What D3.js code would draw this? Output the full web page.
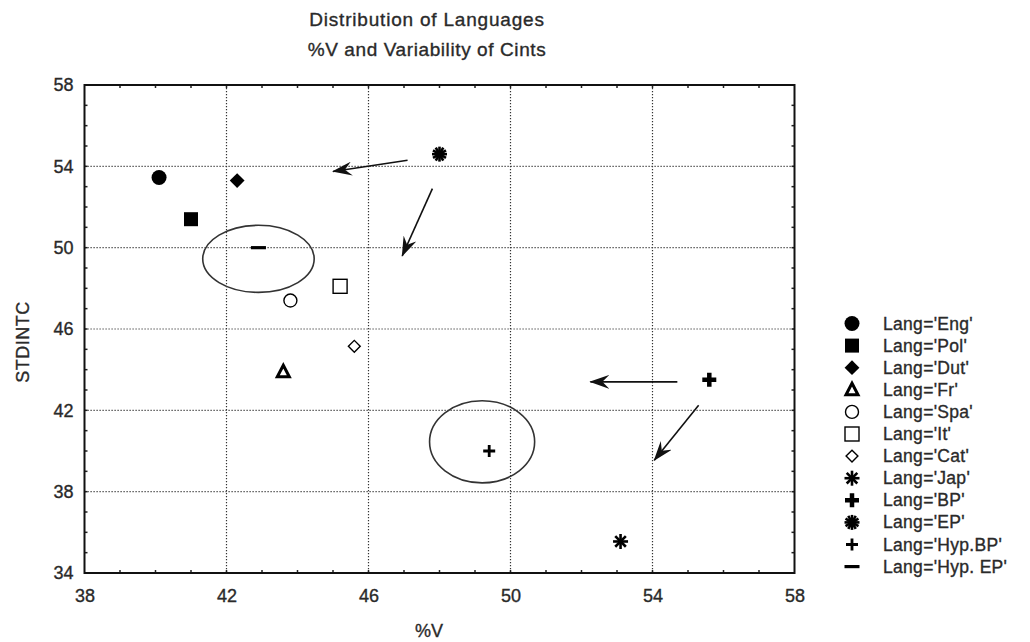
<!DOCTYPE html>
<html>
<head>
<meta charset="utf-8">
<script src="https://cdn.jsdelivr.net/npm/d3@7"></script>
<style>
  body { margin: 0; background: #fff; }
  svg { display: block; font-family: "Liberation Sans", Arial, sans-serif; }
</style>
</head>
<body>
<div id="chart"></div>
<script>
// values
const langs = ['Eng', 'Pol', 'Dut', 'Fr', 'Spa', 'It', 'Cat', 'Jap', 'BP', 'EP', 'Hyp.BP', 'Hyp. EP'];
const vPct = [40.1, 41.0, 42.3, 43.6, 43.8, 45.2, 45.6, 53.1, 55.6, 48.0, 49.4, 42.9];
const stdintc = [53.45, 51.4, 53.3, 43.9, 47.4, 48.1, 45.15, 35.55, 43.5, 54.6, 40.0, 50.0];
const shapes = ['circle', 'square', 'diamond', 'triangle', 'ocircle', 'osquare', 'odiamond', 'star', 'bplus', 'star2', 'plus', 'dash'];

const xTicks = [38, 42, 46, 50, 54, 58];
const yTicks = [34, 38, 42, 46, 50, 54, 58];

// confidence ellipses (centre / half-axes in data units)
const ellCx = [42.9, 49.2];
const ellCy = [49.45, 40.45];
const ellRx = [1.57, 1.48];
const ellRy = [1.65, 2.02];

// arrows: x1, y1, x2, y2 in data units
const arrows = [
    [47.1, 54.3, 45.0, 53.75],
    [47.8, 52.9, 46.95, 49.6],
    [54.7, 43.4, 52.25, 43.4],
    [55.3, 42.25, 54.05, 39.55],
];

const width = 1030;
const height = 642;
const plot = { left: 84.5, right: 794.5, top: 85, bottom: 573 };
const textColor = '#2a2a2a';

const svg = d3.select('#chart')
    .append('svg')
    .attr('width', width)
    .attr('height', height);

const x = d3.scaleLinear().domain([38, 58]).range([plot.left, plot.right]);
const y = d3.scaleLinear().domain([34, 58]).range([plot.bottom, plot.top]);

// text looks a little heavy in the scan, so give it a thin outline
function heavy(sel) {
    sel.style('fill', textColor).style('stroke', textColor).style('stroke-width', 0.35);
}

// title
svg.append('text')
    .attr('x', 427).attr('y', 25.5)
    .attr('text-anchor', 'middle')
    .style('font-size', '19px').style('letter-spacing', '0.8px')
    .text('Distribution of Languages')
    .call(heavy);
svg.append('text')
    .attr('x', 427).attr('y', 55.5)
    .attr('text-anchor', 'middle')
    .style('font-size', '19px').style('letter-spacing', '0.6px')
    .text('%V and Variability of Cints')
    .call(heavy);

// gridlines
const grid = svg.append('g').attr('class', 'grid');
grid.selectAll('.gx')
    .data(xTicks.slice(1, -1))
    .join('line')
    .attr('x1', (d) => x(d)).attr('x2', (d) => x(d))
    .attr('y1', plot.top).attr('y2', plot.bottom)
    .style('stroke', '#333').style('stroke-width', 1.2).style('stroke-dasharray', '1.2,1.8');
grid.selectAll('.gy')
    .data(yTicks.slice(1, -1))
    .join('line')
    .attr('x1', plot.left).attr('x2', plot.right)
    .attr('y1', (d) => y(d)).attr('y2', (d) => y(d))
    .style('stroke', '#333').style('stroke-width', 1.2).style('stroke-dasharray', '1.2,1.8');

// minor ticks on all four sides, pointing inward
const minorX = d3.range(39, 58);
const minorY = d3.range(35, 58);
const minor = svg.append('g').style('stroke', '#222').style('stroke-width', 1.5);
minorX.forEach((v) => {
    minor.append('line').attr('x1', x(v)).attr('x2', x(v)).attr('y1', plot.bottom).attr('y2', plot.bottom - 3);
    minor.append('line').attr('x1', x(v)).attr('x2', x(v)).attr('y1', plot.top).attr('y2', plot.top + 3);
});
minorY.forEach((v) => {
    minor.append('line').attr('y1', y(v)).attr('y2', y(v)).attr('x1', plot.left).attr('x2', plot.left + 3);
    minor.append('line').attr('y1', y(v)).attr('y2', y(v)).attr('x1', plot.right).attr('x2', plot.right - 3);
});

// frame
svg.append('rect')
    .attr('x', plot.left).attr('y', plot.top)
    .attr('width', plot.right - plot.left).attr('height', plot.bottom - plot.top)
    .style('fill', 'none').style('stroke', '#111').style('stroke-width', 2);

// axes: only the labels, the frame above does the lines
const xAxis = svg.append('g')
    .attr('transform', `translate(0, ${plot.bottom})`)
    .call(d3.axisBottom(x).tickValues(xTicks).tickSize(0).tickPadding(16));
const yAxis = svg.append('g')
    .attr('transform', `translate(${plot.left}, 0)`)
    .call(d3.axisLeft(y).tickValues(yTicks).tickSize(0).tickPadding(11));
[xAxis, yAxis].forEach((a) => {
    a.select('.domain').remove();
    a.selectAll('text')
        .style('font-family', '"Liberation Sans", Arial, sans-serif')
        .style('font-size', '18px')
        .call(heavy);
});

svg.append('text')
    .attr('x', 429).attr('y', 637)
    .attr('text-anchor', 'middle')
    .style('font-size', '18px')
    .text('%V')
    .call(heavy);
svg.append('text')
    .attr('transform', 'translate(28.5, 342) rotate(-90)')
    .attr('text-anchor', 'middle')
    .style('font-size', '18px').style('letter-spacing', '0.5px')
    .text('STDINTC')
    .call(heavy);

// ellipses
svg.append('g').selectAll('ellipse')
    .data(ellCx)
    .join('ellipse')
    .attr('cx', (d) => x(d))
    .attr('cy', (d, i) => y(ellCy[i]))
    .attr('rx', (d, i) => x(d + ellRx[i]) - x(d))
    .attr('ry', (d, i) => y(ellCy[i]) - y(ellCy[i] + ellRy[i]))
    .style('fill', 'none').style('stroke', '#333').style('stroke-width', 1.6);

// arrows
svg.append('defs').append('marker')
    .attr('id', 'head')
    .attr('viewBox', '0 0 20 14')
    .attr('refX', 19).attr('refY', 7)
    .attr('markerWidth', 20).attr('markerHeight', 14)
    .attr('markerUnits', 'userSpaceOnUse')
    .attr('orient', 'auto')
    .append('path')
    .attr('d', 'M0,0 L20,7 L0,14 L7,7 Z')
    .style('fill', '#111');

svg.append('g').selectAll('line')
    .data(arrows)
    .join('line')
    .attr('x1', (d) => x(d[0])).attr('y1', (d) => y(d[1]))
    .attr('x2', (d) => x(d[2])).attr('y2', (d) => y(d[3]))
    .style('stroke', '#111').style('stroke-width', 1.6)
    .attr('marker-end', 'url(#head)');

// marker drawing
function drawMarker(g, shape, k) {
    if (shape === 'circle') {
        g.append('circle').attr('r', 7.5 * k).style('fill', '#000');
    } else if (shape === 'square') {
        g.append('rect').attr('x', -7 * k).attr('y', -7 * k).attr('width', 14 * k).attr('height', 14 * k).style('fill', '#000');
    } else if (shape === 'diamond') {
        g.append('path').attr('d', d3.symbol(d3.symbolSquare, 110 * k * k)()).attr('transform', 'rotate(45)').style('fill', '#000');
    } else if (shape === 'triangle') {
        g.append('path').attr('d', `M0,${-6.5 * k} L${6 * k},${5 * k} L${-6 * k},${5 * k} Z`)
            .style('fill', '#fff').style('stroke', '#000').style('stroke-width', 3 * k).style('stroke-linejoin', 'miter');
    } else if (shape === 'ocircle') {
        g.append('circle').attr('r', 6.5 * k).style('fill', '#fff').style('stroke', '#000').style('stroke-width', 1.4);
    } else if (shape === 'osquare') {
        g.append('rect').attr('x', -7 * k).attr('y', -7 * k).attr('width', 14 * k).attr('height', 14 * k)
            .style('fill', '#fff').style('stroke', '#000').style('stroke-width', 1.4);
    } else if (shape === 'odiamond') {
        g.append('path').attr('d', d3.symbol(d3.symbolSquare, 70 * k * k)()).attr('transform', 'rotate(45)')
            .style('fill', '#fff').style('stroke', '#000').style('stroke-width', 1.4);
    } else if (shape === 'star' || shape === 'star2') {
        const n = shape === 'star' ? 4 : 6;
        const r = 7.5 * k;
        for (let i = 0; i < n; i++) {
            const a = (Math.PI * i) / n + Math.PI / 2;
            g.append('line')
                .attr('x1', -r * Math.cos(a)).attr('y1', -r * Math.sin(a))
                .attr('x2', r * Math.cos(a)).attr('y2', r * Math.sin(a))
                .style('stroke', '#000').style('stroke-width', 2.6 * k);
        }
        g.append('circle').attr('r', 2.5 * k).style('fill', '#000');
    } else if (shape === 'bplus') {
        g.append('path').attr('d', `M${-7 * k},0 H${7 * k} M0,${-7 * k} V${7 * k}`)
            .style('stroke', '#000').style('stroke-width', 4.5 * k);
    } else if (shape === 'plus') {
        g.append('path').attr('d', `M${-6 * k},0 H${6 * k} M0,${-6 * k} V${6 * k}`)
            .style('stroke', '#000').style('stroke-width', 2.8 * k);
    } else if (shape === 'dash') {
        g.append('path').attr('d', `M${-7.5 * k},0 H${7.5 * k}`)
            .style('stroke', '#000').style('stroke-width', 3.2 * k);
    }
}

// points
const pts = svg.append('g').attr('class', 'points');
langs.forEach((lang, i) => {
    const g = pts.append('g').attr('transform', `translate(${x(vPct[i])}, ${y(stdintc[i])})`);
    drawMarker(g, shapes[i], 1);
});

// legend
const legend = svg.append('g').attr('class', 'legend');
langs.forEach((lang, i) => {
    const row = legend.append('g').attr('transform', `translate(852, ${323.5 + i * 22.1})`);
    drawMarker(row, shapes[i], 1);
    row.append('text')
        .attr('x', 31).attr('y', 6)
        .style('font-size', '17.5px').style('letter-spacing', '0.3px')
        .text(`Lang='${lang}'`)
        .call(heavy);
});
</script>
</body>
</html>
